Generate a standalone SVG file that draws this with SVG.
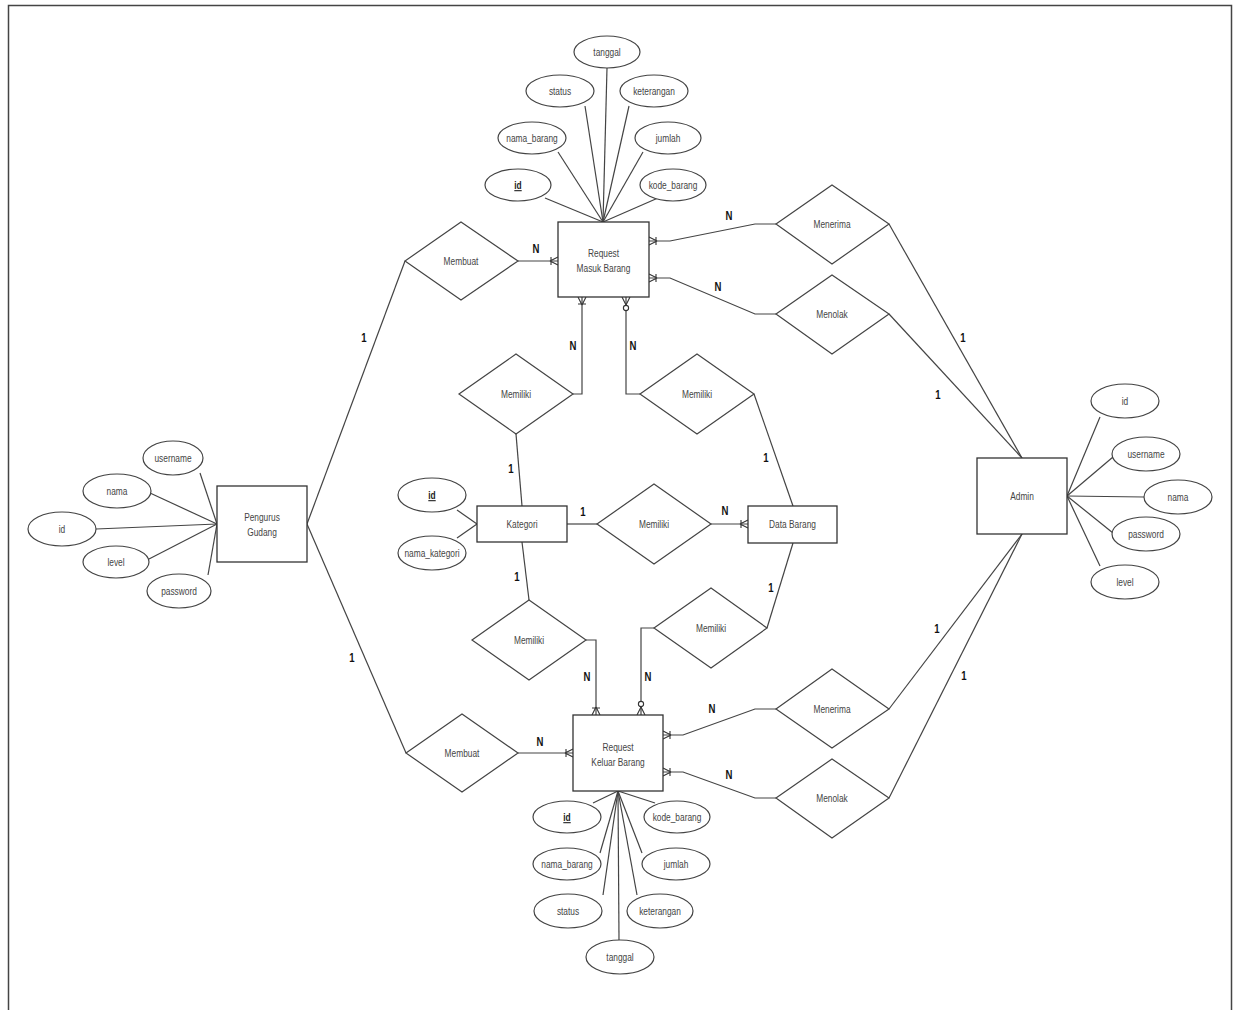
<svg xmlns="http://www.w3.org/2000/svg" width="1238" height="1010" viewBox="0 0 1238 1010">
<style>
.ent{fill:#fff;stroke:#333;stroke-width:1.3}
.attr{fill:#fff;stroke:#444;stroke-width:1.2}
.rel{fill:#fff;stroke:#444;stroke-width:1.2}
.ln{fill:none;stroke:#444;stroke-width:1.2}
.t{font-family:"Liberation Sans",Arial,sans-serif;font-size:11px;fill:#444;text-anchor:middle}
.u{text-decoration:underline;font-weight:bold;fill:#222}
.c{font-family:"Liberation Sans",Arial,sans-serif;font-size:12px;font-weight:bold;fill:#111;text-anchor:middle}
.frame{fill:none;stroke:#444;stroke-width:1.5}
</style>
<defs>
<marker id="many" markerUnits="userSpaceOnUse" markerWidth="24" markerHeight="24" viewBox="-14 -12 24 24" refX="0" refY="0" orient="auto" overflow="visible">
<path d="M-8,0 L0,-4 M-8,0 L0,4 M-7,-4 L-7,4" fill="none" stroke="#333" stroke-width="1.1"/>
</marker>
<marker id="zmany" markerUnits="userSpaceOnUse" markerWidth="24" markerHeight="24" viewBox="-16 -12 24 24" refX="0" refY="0" orient="auto" overflow="visible">
<path d="M-8,0 L0,-4 M-8,0 L0,4" fill="none" stroke="#333" stroke-width="1.1"/>
<circle cx="-11" cy="0" r="2.6" fill="#fff" stroke="#333" stroke-width="1.1"/>
</marker>
</defs>
<rect width="1238" height="1010" fill="#fff"/>
<path class="frame" d="M8.5,1010 V5.5 H1231.5 V1010"/>

<g id="connectors">
<path class="ln" d="M518,261 H558" marker-end="url(#many)"/>
<path class="ln" d="M307,524 L405,261"/>
<path class="ln" d="M307,524 L406,753"/>
<path class="ln" d="M518,753 H573" marker-end="url(#many)"/>
<path class="ln" d="M776,224 H755 L670,241 H649" marker-end="url(#many)"/>
<path class="ln" d="M776,314 H755 L670,278 H649" marker-end="url(#many)"/>
<path class="ln" d="M889,224 L1022,458"/>
<path class="ln" d="M889,314 L1022,458"/>
<path class="ln" d="M573,394 H582 V297" marker-end="url(#many)"/>
<path class="ln" d="M640,394 H626 V297" marker-end="url(#zmany)"/>
<path class="ln" d="M516,434 L522,506"/>
<path class="ln" d="M754,394 L793,506"/>
<path class="ln" d="M567,524 H597"/>
<path class="ln" d="M711,524 H748" marker-end="url(#many)"/>
<path class="ln" d="M522,542 L529,600"/>
<path class="ln" d="M586,640 H596 V715" marker-end="url(#many)"/>
<path class="ln" d="M654,628 H641 V715" marker-end="url(#zmany)"/>
<path class="ln" d="M767,628 L793,543"/>
<path class="ln" d="M776,709 H755 L683,735 H663" marker-end="url(#many)"/>
<path class="ln" d="M776,798 H755 L683,772 H663" marker-end="url(#many)"/>
<path class="ln" d="M889,709 L1022,534"/>
<path class="ln" d="M889,798 L1022,534"/>
<path class="ln" d="M607,68 L603,222"/>
<path class="ln" d="M585,106 L603,222"/>
<path class="ln" d="M629,106 L603,222"/>
<path class="ln" d="M558,152 L603,222"/>
<path class="ln" d="M643,152 L603,222"/>
<path class="ln" d="M545,198 L603,222"/>
<path class="ln" d="M658,198 L603,222"/>
<path class="ln" d="M200,473 L217,524"/>
<path class="ln" d="M150,493 L217,524"/>
<path class="ln" d="M96,529 L217,524"/>
<path class="ln" d="M149,559 L217,524"/>
<path class="ln" d="M208,575 L217,524"/>
<path class="ln" d="M457,510 L477,524"/>
<path class="ln" d="M457,538 L477,524"/>
<path class="ln" d="M1100,417 L1067,496"/>
<path class="ln" d="M1113,457 L1067,496"/>
<path class="ln" d="M1144,497 L1067,496"/>
<path class="ln" d="M1113,533 L1067,496"/>
<path class="ln" d="M1100,566 L1067,496"/>
<path class="ln" d="M593,803 L618,791"/>
<path class="ln" d="M655,803 L618,791"/>
<path class="ln" d="M600,853 L618,791"/>
<path class="ln" d="M642,853 L618,791"/>
<path class="ln" d="M603,895 L618,791"/>
<path class="ln" d="M637,895 L618,791"/>
<path class="ln" d="M619,940 L618,791"/>
</g>

<g id="cardinalities">
<text class="c" transform="translate(536 253) scale(.8 1)">N</text>
<text class="c" transform="translate(364 342) scale(.8 1)">1</text>
<text class="c" transform="translate(352 662) scale(.8 1)">1</text>
<text class="c" transform="translate(729 220) scale(.8 1)">N</text>
<text class="c" transform="translate(718 291) scale(.8 1)">N</text>
<text class="c" transform="translate(963 342) scale(.8 1)">1</text>
<text class="c" transform="translate(938 399) scale(.8 1)">1</text>
<text class="c" transform="translate(573 350) scale(.8 1)">N</text>
<text class="c" transform="translate(633 350) scale(.8 1)">N</text>
<text class="c" transform="translate(511 473) scale(.8 1)">1</text>
<text class="c" transform="translate(766 462) scale(.8 1)">1</text>
<text class="c" transform="translate(583 516) scale(.8 1)">1</text>
<text class="c" transform="translate(725 515) scale(.8 1)">N</text>
<text class="c" transform="translate(517 581) scale(.8 1)">1</text>
<text class="c" transform="translate(771 592) scale(.8 1)">1</text>
<text class="c" transform="translate(587 681) scale(.8 1)">N</text>
<text class="c" transform="translate(648 681) scale(.8 1)">N</text>
<text class="c" transform="translate(712 713) scale(.8 1)">N</text>
<text class="c" transform="translate(729 779) scale(.8 1)">N</text>
<text class="c" transform="translate(937 633) scale(.8 1)">1</text>
<text class="c" transform="translate(964 680) scale(.8 1)">1</text>
<text class="c" transform="translate(540 746) scale(.8 1)">N</text>
</g>

<g id="request-masuk-barang">
<rect class="ent" x="558" y="222" width="91" height="75"/>
<text class="t" transform="translate(603.5 257) scale(.76 1)">Request</text>
<text class="t" transform="translate(603.5 272) scale(.76 1)">Masuk Barang</text>
</g>
<g id="pengurus-gudang">
<rect class="ent" x="217" y="486" width="90" height="76"/>
<text class="t" transform="translate(262 521) scale(.76 1)">Pengurus</text>
<text class="t" transform="translate(262 536) scale(.76 1)">Gudang</text>
</g>
<g id="kategori">
<rect class="ent" x="477" y="506" width="90" height="36"/>
<text class="t" transform="translate(522 528) scale(.76 1)">Kategori</text>
</g>
<g id="data-barang">
<rect class="ent" x="748" y="506" width="89" height="37"/>
<text class="t" transform="translate(792.5 528) scale(.76 1)">Data Barang</text>
</g>
<g id="admin">
<rect class="ent" x="977" y="458" width="90" height="76"/>
<text class="t" transform="translate(1022 500) scale(.76 1)">Admin</text>
</g>
<g id="request-keluar-barang">
<rect class="ent" x="573" y="715" width="90" height="76"/>
<text class="t" transform="translate(618 751) scale(.76 1)">Request</text>
<text class="t" transform="translate(618 766) scale(.76 1)">Keluar Barang</text>
</g>

<g id="rel-membuat-masuk">
<path class="rel" d="M405,261 L461,222 L518,261 L461,300 Z"/>
<text class="t" transform="translate(461 265) scale(.76 1)">Membuat</text>
</g>
<g id="rel-membuat-keluar">
<path class="rel" d="M406,753 L462,714 L518,753 L462,792 Z"/>
<text class="t" transform="translate(462 757) scale(.76 1)">Membuat</text>
</g>
<g id="rel-menerima-masuk">
<path class="rel" d="M776,224 L832,185 L889,224 L832,264 Z"/>
<text class="t" transform="translate(832 228) scale(.76 1)">Menerima</text>
</g>
<g id="rel-menolak-masuk">
<path class="rel" d="M776,314 L832,275 L889,314 L832,354 Z"/>
<text class="t" transform="translate(832 318) scale(.76 1)">Menolak</text>
</g>
<g id="rel-menerima-keluar">
<path class="rel" d="M776,709 L832,669 L889,709 L832,748 Z"/>
<text class="t" transform="translate(832 713) scale(.76 1)">Menerima</text>
</g>
<g id="rel-menolak-keluar">
<path class="rel" d="M776,798 L832,759 L889,798 L832,838 Z"/>
<text class="t" transform="translate(832 802) scale(.76 1)">Menolak</text>
</g>
<g id="rel-memiliki-ul">
<path class="rel" d="M459,394 L516,354 L573,394 L516,434 Z"/>
<text class="t" transform="translate(516 398) scale(.76 1)">Memiliki</text>
</g>
<g id="rel-memiliki-ur">
<path class="rel" d="M640,394 L697,354 L754,394 L697,434 Z"/>
<text class="t" transform="translate(697 398) scale(.76 1)">Memiliki</text>
</g>
<g id="rel-memiliki-c">
<path class="rel" d="M597,524 L654,484 L711,524 L654,564 Z"/>
<text class="t" transform="translate(654 528) scale(.76 1)">Memiliki</text>
</g>
<g id="rel-memiliki-ll">
<path class="rel" d="M472,640 L529,600 L586,640 L529,680 Z"/>
<text class="t" transform="translate(529 644) scale(.76 1)">Memiliki</text>
</g>
<g id="rel-memiliki-lr">
<path class="rel" d="M654,628 L711,588 L767,628 L711,668 Z"/>
<text class="t" transform="translate(711 632) scale(.76 1)">Memiliki</text>
</g>

<g id="attr-rmb-tanggal"><ellipse class="attr" cx="607" cy="52" rx="33" ry="16"/><text class="t" transform="translate(607 56) scale(.76 1)">tanggal</text></g>
<g id="attr-rmb-status"><ellipse class="attr" cx="560" cy="91" rx="34" ry="16"/><text class="t" transform="translate(560 95) scale(.76 1)">status</text></g>
<g id="attr-rmb-keterangan"><ellipse class="attr" cx="654" cy="91" rx="34" ry="16"/><text class="t" transform="translate(654 95) scale(.76 1)">keterangan</text></g>
<g id="attr-rmb-nama-barang"><ellipse class="attr" cx="532" cy="138" rx="34" ry="16"/><text class="t" transform="translate(532 142) scale(.76 1)">nama_barang</text></g>
<g id="attr-rmb-jumlah"><ellipse class="attr" cx="668" cy="138" rx="33" ry="16"/><text class="t" transform="translate(668 142) scale(.76 1)">jumlah</text></g>
<g id="attr-rmb-id"><ellipse class="attr" cx="518" cy="185" rx="33" ry="16"/><text class="t u" transform="translate(518 189) scale(.76 1)">id</text></g>
<g id="attr-rmb-kode-barang"><ellipse class="attr" cx="673" cy="185" rx="33" ry="16"/><text class="t" transform="translate(673 189) scale(.76 1)">kode_barang</text></g>

<g id="attr-pg-username"><ellipse class="attr" cx="173" cy="458" rx="30" ry="17"/><text class="t" transform="translate(173 462) scale(.76 1)">username</text></g>
<g id="attr-pg-nama"><ellipse class="attr" cx="117" cy="491" rx="34" ry="17"/><text class="t" transform="translate(117 495) scale(.76 1)">nama</text></g>
<g id="attr-pg-id"><ellipse class="attr" cx="62" cy="529" rx="34" ry="17"/><text class="t" transform="translate(62 533) scale(.76 1)">id</text></g>
<g id="attr-pg-level"><ellipse class="attr" cx="116" cy="562" rx="33" ry="16"/><text class="t" transform="translate(116 566) scale(.76 1)">level</text></g>
<g id="attr-pg-password"><ellipse class="attr" cx="179" cy="591" rx="32" ry="17"/><text class="t" transform="translate(179 595) scale(.76 1)">password</text></g>

<g id="attr-kat-id"><ellipse class="attr" cx="432" cy="495" rx="34" ry="17"/><text class="t u" transform="translate(432 499) scale(.76 1)">id</text></g>
<g id="attr-kat-nama-kategori"><ellipse class="attr" cx="432" cy="553" rx="34" ry="17"/><text class="t" transform="translate(432 557) scale(.76 1)">nama_kategori</text></g>

<g id="attr-admin-id"><ellipse class="attr" cx="1125" cy="401" rx="34" ry="17"/><text class="t" transform="translate(1125 405) scale(.76 1)">id</text></g>
<g id="attr-admin-username"><ellipse class="attr" cx="1146" cy="454" rx="34" ry="17"/><text class="t" transform="translate(1146 458) scale(.76 1)">username</text></g>
<g id="attr-admin-nama"><ellipse class="attr" cx="1178" cy="497" rx="34" ry="17"/><text class="t" transform="translate(1178 501) scale(.76 1)">nama</text></g>
<g id="attr-admin-password"><ellipse class="attr" cx="1146" cy="534" rx="34" ry="17"/><text class="t" transform="translate(1146 538) scale(.76 1)">password</text></g>
<g id="attr-admin-level"><ellipse class="attr" cx="1125" cy="582" rx="34" ry="17"/><text class="t" transform="translate(1125 586) scale(.76 1)">level</text></g>

<g id="attr-rkb-id"><ellipse class="attr" cx="567" cy="817" rx="34" ry="16"/><text class="t u" transform="translate(567 821) scale(.76 1)">id</text></g>
<g id="attr-rkb-kode-barang"><ellipse class="attr" cx="677" cy="817" rx="33" ry="16"/><text class="t" transform="translate(677 821) scale(.76 1)">kode_barang</text></g>
<g id="attr-rkb-nama-barang"><ellipse class="attr" cx="567" cy="864" rx="34" ry="16"/><text class="t" transform="translate(567 868) scale(.76 1)">nama_barang</text></g>
<g id="attr-rkb-jumlah"><ellipse class="attr" cx="676" cy="864" rx="34" ry="16"/><text class="t" transform="translate(676 868) scale(.76 1)">jumlah</text></g>
<g id="attr-rkb-status"><ellipse class="attr" cx="568" cy="911" rx="34" ry="17"/><text class="t" transform="translate(568 915) scale(.76 1)">status</text></g>
<g id="attr-rkb-keterangan"><ellipse class="attr" cx="660" cy="911" rx="33" ry="17"/><text class="t" transform="translate(660 915) scale(.76 1)">keterangan</text></g>
<g id="attr-rkb-tanggal"><ellipse class="attr" cx="620" cy="957" rx="34" ry="17"/><text class="t" transform="translate(620 961) scale(.76 1)">tanggal</text></g>
</svg>
